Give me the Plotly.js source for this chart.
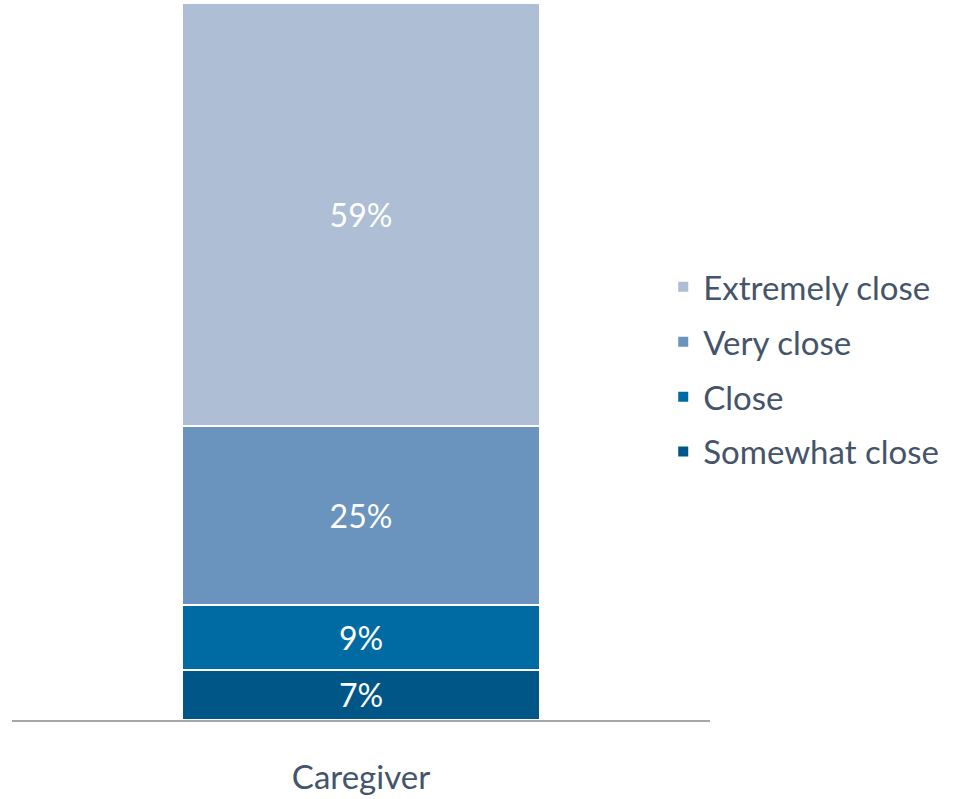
<!DOCTYPE html>
<html>
<head>
<meta charset="utf-8">
<script src="https://cdn.plot.ly/plotly-3.0.1.min.js"></script>
<style>html,body{margin:0;padding:0;background:#fff;}#chart{width:953px;height:799px;}</style>
</head>
<body>
<div id="chart"></div>
<script>
const categories = ["Caregiver"];
const seriesNames = ["Somewhat close", "Close", "Very close", "Extremely close"];
const somewhatClose = [7];
const close = [9];
const veryClose = [25];
const extremelyClose = [59];
const seriesValues = [somewhatClose, close, veryClose, extremelyClose];
const colors = ["#005686", "#006BA3", "#6A93BD", "#ADBED5"];

const font = "Lato, 'Open Sans', sans-serif";
const textColor = "#44546A";

const traces = seriesNames.map((name, i) => ({
  type: "bar",
  name: name,
  x: categories,
  y: seriesValues[i],
  text: seriesValues[i].map(v => v + "%"),
  textposition: "inside",
  insidetextanchor: "middle",
  textfont: {family: font, size: 32, color: "#ffffff"},
  marker: {color: colors[i], line: {color: "#ffffff", width: 2}},
  width: 0.514,
  legendgroup: "g" + i,
  legendrank: seriesNames.length - i,
  hoverinfo: "name+y"
}));

const layout = {
  width: 953,
  height: 799,
  margin: {l: 12, r: 243, t: 3, b: 79},
  barmode: "stack",
  paper_bgcolor: "#ffffff",
  plot_bgcolor: "#ffffff",
  font: {family: font, color: textColor},
  xaxis: {
    range: [-0.5, 0.5],
    showline: true,
    linecolor: "#a6a6a6",
    linewidth: 2,
    ticks: "",
    tickfont: {family: font, size: 33, color: textColor},
    ticklabelstandoff: 27,
    fixedrange: true
  },
  yaxis: {
    range: [0, 100],
    visible: false,
    showgrid: false,
    zeroline: false,
    fixedrange: true
  },
  showlegend: true,
  legend: {
    x: 0.933,
    xanchor: "left",
    y: 0.489,
    yanchor: "middle",
    traceorder: "grouped",
    tracegroupgap: 9,
    font: {family: font, size: 33, color: textColor},
    itemwidth: 30
  }
};

Plotly.newPlot("chart", traces, layout, {displayModeBar: false, staticPlot: true});
</script>
</body>
</html>
